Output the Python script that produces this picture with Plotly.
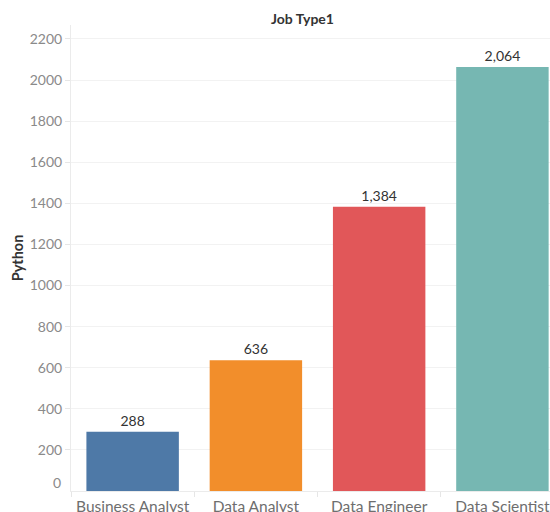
import plotly.graph_objects as go

# Job-type counts of postings mentioning Python
job_types = ["Business Analyst", "Data Analyst", "Data Engineer", "Data Scientist"]
python_counts = [288, 636, 1384, 2064]
bar_colors = ["#4e79a7", "#f28e2b", "#e15759", "#76b7b2"]
y_ticks = [200, 400, 600, 800, 1000, 1200, 1400, 1600, 1800, 2000, 2200]

FONT = "Lato, 'Open Sans', sans-serif"

fig = go.Figure(
    go.Bar(
        x=job_types,
        y=python_counts,
        marker=dict(color=bar_colors, line=dict(width=0)),
        width=0.75,
        text=[f"{v:,}" for v in python_counts],
        textposition="outside",
        cliponaxis=False,
        textfont=dict(family=FONT, size=14, color="#333333"),
    )
)

fig.update_layout(
    width=550,
    height=512,
    margin=dict(l=71, r=0, t=25, b=21, autoexpand=False),
    paper_bgcolor="white",
    plot_bgcolor="white",
    showlegend=False,
    font=dict(family=FONT),
    title=dict(
        text="<b>Job Type1</b>",
        x=0.55,
        xanchor="center",
        y=1 - 19 / 512,
        yanchor="middle",
        font=dict(size=14, color="#333333"),
    ),
    bargap=0.25,
)

fig.update_xaxes(
    range=[-0.5, 3.386],
    automargin=False,
    tickson="boundaries",
    ticks="outside",
    ticklen=5,
    tickcolor="#e6e6e6",
    showgrid=False,
    showline=True,
    linecolor="#ebebeb",
    ticklabelstandoff=1,
    tickfont=dict(size=15.5, color="#6e6e6e"),
)

fig.update_yaxes(
    range=[0, 2268],
    automargin=False,
    tickvals=y_ticks,
    ticks="outside",
    ticklen=5,
    tickcolor="#e6e6e6",
    showgrid=True,
    gridcolor="#f2f2f2",
    zeroline=False,
    showline=True,
    linecolor="#ebebeb",
    tickfont=dict(size=14, color="#8a8a8a"),
    title=dict(text="<b>Python</b>", font=dict(size=14.5, color="#333333"), standoff=2),
)

# Zero label nudged up so it sits inside the axis extent
fig.add_annotation(
    x=0, xref="paper", xanchor="right", xshift=-8,
    y=0, yref="y", yanchor="middle", yshift=9,
    text="0", showarrow=False,
    font=dict(size=14, color="#8a8a8a"),
)

fig.write_html("out.html")
